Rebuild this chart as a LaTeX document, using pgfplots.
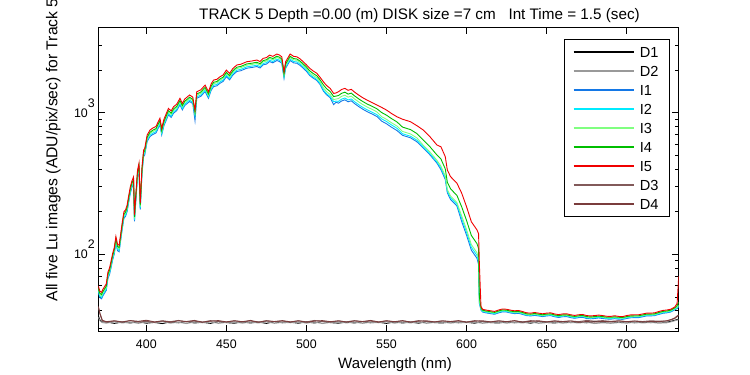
\documentclass[border=0pt]{standalone}
\usepackage{pgfplots}
\usepackage{pgfplotstable}
\usepackage{fontspec}
\setmainfont{Liberation Sans}
\pgfplotsset{compat=1.18}
\definecolor{cD2}{RGB}{153,153,153}
\definecolor{cI1}{RGB}{20,120,230}
\definecolor{cI2}{RGB}{0,235,255}
\definecolor{cI3}{RGB}{128,255,128}
\definecolor{cI4}{RGB}{0,190,0}
\definecolor{cI5}{RGB}{240,0,0}
\definecolor{cD3}{RGB}{130,90,90}
\definecolor{cD4}{RGB}{122,60,60}
\pgfplotstableread{
lam I1 I2 I3 I4 I5
370 54 55.2 56.7 57.9 60
371 49.5 50.6 52 53.1 55
372 48.6 49.7 51 52.1 54
373 51.3 52.4 53.9 55 57
375 55.8 57 58.6 59.8 62
376 67.5 69 70.9 72.4 75
377 72 73.6 75.6 77.2 80
378 81 82.8 85 86.9 90
379 91.8 93.8 96.4 98.4 102
380 100.8 103 105.8 108.1 112
381 120.6 123.3 126.6 129.3 134
382 106.2 108.6 111.5 113.9 118
383 104.4 106.7 109.6 111.9 116
384 126 128.8 132.3 135.1 140
385 152.1 155.5 159.7 163.1 169
386 180 184 189 193 200
387 185.4 189.5 194.7 198.8 206
388 200.7 205.2 210.7 215.2 223
389 234 239.2 245.7 250.9 260
390 270 276 283.5 289.5 300
391 297 303.6 311.9 318.5 330
392 316.8 323.8 332.6 339.7 352
392.6 171 174.8 179.6 183.4 190
393.5 243.9 249.3 256.1 261.5 271
394.5 353.7 361.6 371.4 379.2 393
395.4 396 404.8 415.8 424.6 440
396.2 207 211.6 217.4 222 230
397.3 373.5 381.8 392.2 400.5 415
398.3 490.5 501.4 515 525.9 545
399 504 515.2 529.2 540.4 560
400.5 626.4 640.3 657.7 671.6 696
402.3 679.5 694.6 713.5 728.6 755
404 702 717.6 737.1 752.7 780
406 720 736 756 772 800
408.5 823.5 841.8 864.7 883 915
409.6 698.4 713.9 733.3 748.8 776
411 810 828 850.5 868.5 900
413.8 965.7 987.2 1014 1035.4 1073
415.5 927 947.6 973.4 994 1030
417 992.7 1014.8 1042.3 1064.4 1103
419 1035 1058 1086.8 1109.8 1150
421 1137.6 1162.9 1194.5 1219.8 1264
422.5 1048.5 1071.8 1100.9 1124.2 1165
424 1125 1150 1181.3 1206.3 1250
427 1200.6 1227.3 1260.6 1287.3 1334
429 1161 1186.8 1219.1 1244.9 1290
430.4 880 961.4 987.5 1008.4 1045
431.5 1266.3 1294.4 1329.6 1357.8 1407
434 1305 1334 1370.3 1399.3 1450
436.7 1411.2 1442.6 1481.8 1513.1 1568
438.8 1266.3 1294.4 1329.6 1357.8 1407
440.5 1440 1472 1512 1544 1600
442 1530.9 1564.9 1607.4 1641.5 1701
444 1548 1582.4 1625.4 1659.8 1720
446 1615.5 1651.4 1696.3 1732.2 1795
448 1665 1702 1748.3 1785.3 1850
450 1800.9 1840.9 1890.9 1931 2001
452 1708.2 1746.2 1793.6 1831.6 1898
454 1845 1886 1937.3 1978.3 2050
456.5 1954.8 1998.2 2052.5 2096 2172
459 1980 2024 2079 2123 2200
462.7 2061.9 2107.7 2165 2210.8 2291
466 2088 2134.4 2192.4 2238.8 2320
469 2119.5 2166.6 2225.5 2272.6 2355
471 2070 2116 2173.5 2219.5 2300
473 2178.9 2227.3 2287.8 2336.3 2421
475 2205 2254 2315.3 2364.3 2450
477 2296.8 2347.8 2411.6 2462.7 2552
479 2250 2300 2362.5 2412.5 2500
481.5 2337.3 2389.2 2454.2 2506.1 2597
483 2304 2355.2 2419.2 2470.4 2560
484.6 2234.7 2284.4 2346.4 2396.1 2483
486 1752 1791 1840 1879 1947
487 2061.9 2107.7 2165 2210.8 2291
488.5 2205 2254 2315.3 2364.3 2450
489.8 2337.3 2389.2 2454.2 2506.1 2597
492 2250 2300 2362.5 2412.5 2500
494 2234.7 2284.4 2346.4 2396.1 2483
496 2160 2208 2268 2316 2400
498 2061.9 2107.7 2165 2210.8 2291
500 1962 2005.6 2060.1 2103.7 2180
502 1834.3 1865.2 1916.7 1978.6 2061
504 1762.2 1791.9 1841.4 1900.8 1980
506.5 1689.2 1717.7 1765.1 1822.1 1898
508.5 1584.2 1610.9 1655.4 1708.8 1780
510.6 1422.4 1447.3 1496.9 1571.3 1654
512.5 1341.6 1365 1411.8 1482 1560
514.8 1278 1300.3 1344.8 1411.7 1486
517 1140 1197.9 1239 1300.6 1369
518.5 1186.8 1207.5 1248.9 1311 1380
520 1167.8 1203 1259.3 1322.6 1407
522 1211.8 1248.3 1306.7 1372.4 1460
524 1233.4 1270.5 1330 1396.8 1486
526 1195.2 1231.2 1288.8 1353.6 1440
528 1214.3 1250.9 1309.4 1375.2 1463
530 1162 1197 1253 1316 1400
532.6 1107.2 1140.6 1193.9 1254 1334
535 1062.4 1094.4 1145.6 1203.2 1280
537.7 1020.9 1051.7 1100.9 1156.2 1230
541 979.4 1008.9 1056.1 1109.2 1180
544 941.2 969.6 1014.9 1066 1134
547 872 904.7 937.4 1002.8 1090
550 836 867.4 898.7 961.4 1045
553 792 821.7 851.4 910.8 990
556.5 749.6 777.7 805.8 862 937
560 693 711 738 792 900
565 665.3 682.6 708.5 760.3 864
569 623.7 639.9 664.2 712.8 810
573 562.5 573.8 588.9 641.8 755
577 506.6 516.8 530.4 578 680
581.5 441 449.9 461.8 503.2 592
584 396.8 408.3 419.8 471.5 575
586.7 338.1 347.9 357.7 401.8 490
588 271.9 279.7 287.6 323.1 394
590 244.3 251.3 258.4 290.3 354
594 219.4 225.8 232.1 260.8 318
597 170.1 178.2 186.3 216 270
600 136.7 143.2 149.7 173.6 217
603 107.1 112.2 117.3 136 170
606.5 93.9 98.3 102.8 119.2 149
607.5 85 89 93 110 140
608 45 46 47 50 86
609 40.5 41 41.5 42 43
610 39.2 39.6 40 40.4 41
612 38.7 39.1 39.5 39.9 40.5
615 38.2 38.6 39 39.4 40
617.5 37.8 38.2 38.6 39.0 39.6
620 38.7 39.1 39.5 39.9 40.5
622.5 39.3 39.8 40.2 40.6 41.2
625 39.2 39.6 40 40.4 41
627.5 38.6 39.0 39.4 39.8 40.4
630 38.2 38.6 39 39.4 40
632.5 38.4 38.8 39.2 39.6 40.2
635 37.7 38.1 38.5 38.9 39.5
637.5 37.0 37.3 37.7 38.1 38.7
640 36.8 37.2 37.5 37.9 38.5
642.5 37.1 37.5 37.9 38.3 38.9
645 36.8 37.2 37.5 37.9 38.5
647.5 36.4 36.8 37.1 37.5 38.1
650 36.8 37.2 37.5 37.9 38.5
652.5 37.0 37.3 37.7 38.1 38.7
655 36.3 36.7 37.1 37.4 38
657.5 35.9 36.3 36.7 37.0 37.6
660 36.3 36.7 37.1 37.4 38
662.5 36.4 36.8 37.1 37.5 38.1
665 35.8 36.2 36.6 36.9 37.5
667.5 35.4 35.8 36.2 36.5 37.1
670 35.8 36.2 36.6 36.9 37.5
672.5 36.0 36.4 36.8 37.1 37.7
675 35.3 35.7 36.1 36.4 37
677.5 35.1 35.5 35.9 36.2 36.8
680 35.3 35.7 36.1 36.4 37
682.5 35.6 36.0 36.4 36.7 37.3
685 35.3 35.7 36.1 36.4 37
687.5 35.0 35.3 35.7 36.1 36.6
690 34.9 35.2 35.6 36 36.5
692.5 35.2 35.6 36.0 36.3 36.9
695 34.9 35.2 35.6 36 36.5
697.5 34.8 35.1 35.5 35.9 36.4
700 35.3 35.7 36.1 36.4 37
702.5 35.7 36.1 36.5 36.8 37.4
705 35.8 36.2 36.6 36.9 37.5
707.5 35.8 36.2 36.6 36.9 37.5
710 36.3 36.7 37.1 37.4 38
712.5 36.8 37.2 37.5 37.9 38.5
715 36.8 37.2 37.5 37.9 38.5
717.5 37.0 37.3 37.7 38.1 38.7
720 37.7 38.1 38.5 38.9 39.5
722.5 38.4 38.8 39.2 39.6 40.2
725 38.7 39.1 39.5 39.9 40.5
727.5 39.2 39.6 40.0 40.4 41.0
730 40.6 41 41.4 41.9 42.5
731.5 41.5 42 42.5 43.5 45
732.5 42.5 43 44 46 70
}\Itable
\pgfplotstableread{
lam D1 D2 D3 D4
370 37 36 42.5 43
371 34.5 34 38 38.5
372.5 33.3 33.0 34 34.3
375 33.4 32.7 33.2 33.5
380 32.6 33.5 33.9 34.0
385 33.3 32.8 33.4 33.3
390 32.8 33.3 34.1 34.1
395 33.5 32.6 33.3 33.7
400 32.7 33.4 33.7 34.3
405 33.1 33.0 33.1 33.4
410 32.5 33.6 34.0 33.9
415 33.4 32.7 33.5 33.2
420 32.9 33.2 34.2 34.0
425 33.6 32.5 33.4 33.6
430 32.8 33.3 33.8 34.2
435 33.2 32.9 33.2 33.3
440 32.6 33.5 34.1 33.8
445 33.5 32.6 33.6 34.1
450 33.0 33.1 33.3 33.4
455 32.7 33.4 34.0 34.0
460 33.4 32.7 33.4 33.5
465 32.8 33.3 33.9 34.2
470 33.3 32.8 33.2 33.3
475 32.6 33.5 34.1 33.9
480 33.5 32.6 33.5 33.6
485 32.9 33.2 33.8 34.1
490 33.2 32.9 33.3 33.4
495 32.7 33.4 34.0 34.0
500 33.4 32.7 33.4 33.2
505 32.8 33.3 34.2 33.8
510 33.6 32.5 33.6 34.1
515 33.0 33.1 33.3 33.5
520 32.7 33.4 33.9 34.0
525 33.3 32.8 33.4 33.3
530 32.8 33.3 34.1 33.9
535 33.5 32.6 33.5 33.6
540 32.9 33.2 33.8 34.2
545 33.2 32.9 33.2 33.4
550 32.6 33.5 34.0 34.0
555 33.4 32.7 33.4 33.5
560 32.8 33.3 33.9 34.1
565 33.3 32.8 33.3 33.3
570 32.7 33.4 34.1 33.8
575 33.5 32.6 33.6 34.0
580 33.0 33.1 33.4 33.4
585 32.8 33.3 34.0 33.9
590 33.4 32.7 33.5 33.6
595 32.9 33.2 33.8 34.1
600 33.2 32.9 33.3 33.3
605 32.7 33.4 34.1 33.8
610 33.5 32.6 33.6 34.0
615 33.0 33.1 33.4 33.4
620 32.8 33.3 34.0 33.9
625 33.4 32.7 33.5 33.5
630 32.9 33.2 33.9 34.1
635 33.3 32.8 33.3 33.3
640 32.7 33.4 34.1 33.7
645 33.5 32.6 33.7 34.0
650 33.1 33.0 33.4 33.4
655 32.8 33.3 34.0 33.8
660 33.4 32.7 33.6 33.5
665 33.0 33.1 33.9 33.9
670 33.3 32.8 33.5 33.2
675 32.9 33.2 34.2 33.6
680 33.6 32.5 33.8 33.3
685 33.2 32.9 34.1 33.7
690 33.5 32.6 33.7 33.4
695 33.1 33.0 34.0 33.9
700 33.4 32.7 33.5 33.5
705 32.9 33.2 33.9 33.8
710 33.3 32.8 33.6 33.4
715 33.0 33.1 34.0 33.6
720 33.4 32.7 33.8 33.5
725 33.2 32.9 33.9 34.0
728 33.8 33.5 34.6 34.8
730 34.3 34.0 35.3 35.6
732.5 35.0 34.6 37.0 37.5
}\Dtable
\newcommand\tickfont{\fontsize{12.4}{14}\selectfont}
\newcommand\labfont{\fontsize{15}{18}\selectfont}
\begin{document}
\begin{tikzpicture}
\begin{axis}[
  at={(0pt,0pt)}, anchor=south west,
  scale only axis, width=580.4pt, height=303.7pt,
  xmin=370, xmax=732.5, ymode=log, ymin=28.8, ymax=4010,
  xtick={400,450,...,700},
  ytick={100,1000},
  yticklabels={10\raisebox{10pt}[0pt][0pt]{2},10\raisebox{10pt}[0pt][0pt]{3}},
  minor ytick={30,40,50,60,70,80,90,200,300,400,500,600,700,800,900,2000,3000,4000},
  major tick length=6.5pt, minor tick length=3.5pt,
  tick style={black, line width=0.8pt},
  axis line style={black, line width=0.8pt},
  /pgf/number format/assume math mode=true,
  /pgf/number format/1000 sep={},
  ticklabel style={font=\tickfont},
  xticklabel style={yshift=-5pt},
  title={TRACK 5 Depth =0.00 (m) DISK size =7 cm\ \ \ Int Time = 1.5 (sec)},
  every axis title/.style={at={(axis description cs:0.5534,1.0273)}, anchor=base, font=\fontsize{15.25}{18}\selectfont},
  xlabel={Wavelength (nm)},
  every axis x label/.style={at={(axis description cs:0.5112,-0.1251)}, anchor=base, font=\labfont},
  ylabel={All five Lu images (ADU/pix/sec) for Track 5},
  every axis y label/.style={at={(axis description cs:-0.0706,0.0856)}, rotate=90, anchor=base west, font=\fontsize{15.7}{18}\selectfont},
  legend cell align=left,
  legend image code/.code={\draw[#1, line width=1.2pt] (0pt,0pt) -- (60.7pt,0pt);},
  legend style={at={(axis description cs:0.985,0.9615)}, anchor=north east,
    draw=black, line width=0.8pt, font=\fontsize{14.6}{16}\selectfont,
    nodes={inner ysep=0pt, text height=11pt, text depth=0pt},
    inner xsep=9pt, inner ysep=7.2pt, row sep=8pt, column sep=3pt},
  every axis plot/.append style={line width=0.9pt},
]
\addplot[black] table[x=lam,y=D1]{\Dtable};
\addplot[cD2] table[x=lam,y=D2]{\Dtable};
\addplot[cI1] table[x=lam,y=I1]{\Itable};
\addplot[cI2] table[x=lam,y=I2]{\Itable};
\addplot[cI3] table[x=lam,y=I3]{\Itable};
\addplot[cI4] table[x=lam,y=I4]{\Itable};
\addplot[cI5] table[x=lam,y=I5]{\Itable};
\addplot[cD3] table[x=lam,y=D3]{\Dtable};
\addplot[cD4] table[x=lam,y=D4]{\Dtable};
\legend{D1,D2,I1,I2,I3,I4,I5,D3,D4}
\end{axis}
\pgfresetboundingbox
\useasboundingbox (-98.3pt,-44pt) rectangle (651.7pt,331pt);
\end{tikzpicture}
\end{document}
